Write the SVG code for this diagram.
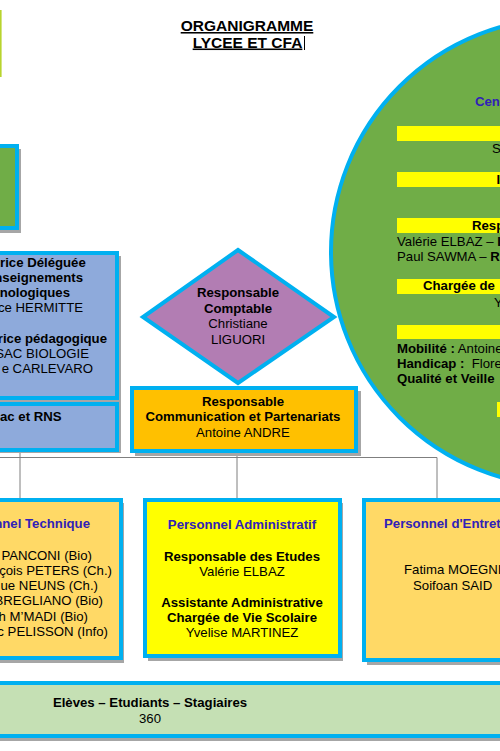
<svg xmlns="http://www.w3.org/2000/svg" width="500" height="751" viewBox="0 0 500 751">
<style>
text{font-family:"Liberation Sans",Arial,sans-serif;font-size:13.2px;fill:#000}
.b{font-weight:bold}
.t{fill:#3021b8;font-weight:bold}
.bx{stroke:#00b0f0;stroke-width:4}
.sh{fill:#a6a6a6}
.c{text-anchor:middle}
.e{text-anchor:end}
.ln{stroke:#7f7f7f;stroke-width:1;fill:none}
</style>
<rect width="500" height="751" fill="#fff"/>
<g id="title">
<text x="247" y="31" class="b c" style="font-size:15.5px;text-decoration:underline">ORGANIGRAMME</text>
<text x="247.5" y="47.5" class="b c" style="font-size:15.5px;text-decoration:underline">LYCEE ET CFA</text>
<line x1="304.5" y1="36" x2="304.5" y2="50" stroke="#000" stroke-width="1"/>
</g>
<g id="topleft-edge"><rect x="0" y="10" width="1.6" height="67" fill="#b8d42e"/></g>
<g id="green-box">
<rect x="-9" y="149" width="30" height="84" class="sh"/>
<rect x="-12" y="146" width="29" height="82" fill="#70ad47" class="bx"/>
</g>
<g id="circle">
<circle cx="565" cy="252" r="234" fill="#70ad47" class="bx"/>
<text x="475" y="106" class="t">Cen</text>
<rect x="397" y="126" width="110" height="15" fill="#ffff00"/>
<text x="492" y="153">S</text>
<rect x="397" y="172" width="110" height="15" fill="#ffff00"/>
<text x="496.5" y="184" class="b">I</text>
<rect x="397" y="218" width="110" height="15" fill="#ffff00"/>
<text x="472" y="230" class="b">Resp</text>
<text x="397" y="246">Valérie ELBAZ – <tspan class="b">I</tspan></text>
<text x="397" y="261">Paul SAWMA – <tspan class="b">R</tspan></text>
<rect x="397" y="279" width="110" height="15" fill="#ffff00"/>
<text x="423" y="290" class="b">Chargée de</text>
<text x="494" y="307">Y</text>
<rect x="397" y="325" width="110" height="14" fill="#ffff00"/>
<text x="397" y="353"><tspan class="b">Mobilité :</tspan> Antoine</text>
<text x="397" y="368"><tspan class="b">Handicap :</tspan> &#160;Flore</text>
<text x="397" y="383" class="b">Qualité et Veille</text>
<rect x="497" y="402" width="10" height="15" fill="#ffff00"/>
</g>
<g id="connectors">
<line x1="0" y1="457.5" x2="437" y2="457.5" class="ln"/>
<line x1="20" y1="452" x2="20" y2="498" class="ln"/>
<line x1="237" y1="453" x2="237" y2="498" class="ln"/>
<line x1="437" y1="457.5" x2="437" y2="498" class="ln"/>
</g>
<g id="blue-box">
<rect x="-9" y="256" width="130" height="197" class="sh"/>
<rect x="-12" y="253" width="129" height="145" fill="#8eaadb" class="bx"/>
<rect x="-12" y="404" width="129" height="46" fill="#8eaadb" class="bx"/>
<text x="0" y="267" class="b">rice Déléguée</text>
<text x="83" y="282" class="b e">nseignements</text>
<text x="70" y="297" class="b e">nologiques</text>
<text x="83" y="312" class="e">ce HERMITTE</text>
<text x="107" y="343" class="b e">rice pédagogique</text>
<text x="89" y="358" class="e">SAC BIOLOGIE</text>
<text x="93" y="373" class="e">e CARLEVARO</text>
<text x="0" y="421" class="b">ac et RNS</text>
</g>
<g id="comptable">
<polygon points="238,250 334,317 238,383 143,317" fill="#b27db3" class="bx"/>
<text x="238" y="297" class="b c">Responsable</text>
<text x="238" y="313" class="b c">Comptable</text>
<text x="238" y="328" class="c">Christiane</text>
<text x="238" y="344" class="c">LIGUORI</text>
</g>
<g id="communication">
<rect x="135" y="391" width="226" height="65" class="sh"/>
<rect x="132" y="388" width="224" height="63" fill="#ffc000" class="bx"/>
<text x="243" y="406" class="b c">Responsable</text>
<text x="243" y="421" class="b c">Communication et Partenariats</text>
<text x="243" y="437" class="c">Antoine ANDRE</text>
</g>
<g id="technique">
<rect x="-7" y="503" width="131" height="160" class="sh"/>
<rect x="-10" y="500" width="131" height="158" fill="#ffd966" class="bx"/>
<text x="90" y="528" class="t e">nnel Technique</text>
<text x="92" y="559.5" class="e">PANCONI (Bio)</text>
<text x="112" y="574.5" class="e">çois PETERS (Ch.)</text>
<text x="98" y="590" class="e">ue NEUNS (Ch.)</text>
<text x="103" y="605" class="e">BREGLIANO (Bio)</text>
<text x="88" y="620.5" class="e">h M’MADI (Bio)</text>
<text x="108" y="636" class="e">c PELISSON (Info)</text>
</g>
<g id="administratif">
<rect x="148" y="503" width="195" height="158" class="sh"/>
<rect x="145" y="500" width="195" height="156" fill="#ffff00" class="bx"/>
<text x="242" y="529" class="t c">Personnel Administratif</text>
<text x="242" y="561" class="b c">Responsable des Etudes</text>
<text x="242" y="576" class="c">Valérie ELBAZ</text>
<text x="242" y="607" class="b c">Assistante Administrative</text>
<text x="242" y="622" class="b c">Chargée de Vie Scolaire</text>
<text x="242" y="637" class="c">Yvelise MARTINEZ</text>
</g>
<g id="entretien">
<rect x="367" y="503" width="150" height="162" class="sh"/>
<rect x="364" y="500" width="150" height="160" fill="#ffd966" class="bx"/>
<text x="384" y="528" class="t">Personnel d'Entret</text>
<text x="404" y="574">Fatima MOEGNI</text>
<text x="413" y="590">Soifoan SAID</text>
</g>
<g id="eleves">
<rect x="-10" y="686" width="520" height="55" class="sh"/>
<rect x="-10" y="683" width="520" height="53" fill="#c5e0b4" class="bx"/>
<text x="150" y="707" class="b c">Elèves – Etudiants – Stagiaires</text>
<text x="150" y="723" class="c">360</text>
</g>
</svg>
